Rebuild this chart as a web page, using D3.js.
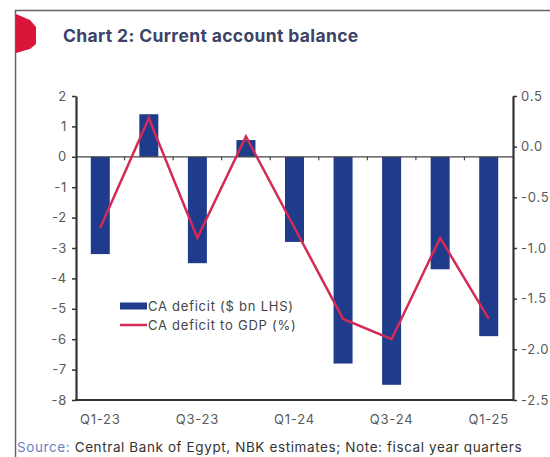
<!DOCTYPE html>
<html>
<head>
<meta charset="utf-8">
<script src="https://cdn.jsdelivr.net/npm/d3@7"></script>
<style>
  body { margin: 0; background: #fff; }
  svg { display: block; font-family: Inter, "Noto Sans", sans-serif; }
</style>
</head>
<body>
<svg id="chart" width="550" height="457"></svg>
<script>
const quarters = ['Q1-23', 'Q2-23', 'Q3-23', 'Q4-23', 'Q1-24', 'Q2-24', 'Q3-24', 'Q4-24', 'Q1-25']
const caDeficit = [-3.2, 1.4, -3.5, 0.55, -2.8, -6.8, -7.5, -3.7, -5.9]
const caToGdp = [-0.8, 0.28, -0.9, 0.1, -0.8, -1.7, -1.9, -0.9, -1.7]
const xLabels = ['Q1-23', 'Q3-23', 'Q1-24', 'Q3-24', 'Q1-25']
const leftTicks = [2, 1, 0, -1, -2, -3, -4, -5, -6, -7, -8]
const rightTicks = [0.5, 0, -0.5, -1, -1.5, -2, -2.5]

const svg = d3.select('#chart')
const plotL = 76, plotR = 513, plotT = 96, plotB = 400

// frame + red marker
svg.append('path')
  .attr('d', 'M15.5,457 V10.5 H550')
  .attr('fill', 'none')
  .attr('stroke', '#666')
  .attr('stroke-width', 1.5)
svg.append('path')
  .attr('d', 'M16,14 L30,20 L36,27 L36,44 L30,49 L16,53 Z')
  .attr('fill', '#d9163a')

svg.append('text')
  .attr('x', 63).attr('y', 42)
  .attr('font-size', 17.5).attr('font-weight', 700)
  .attr('letter-spacing', 0.35)
  .attr('fill', '#3b4466')
  .text('Chart 2: Current account balance')

const xb = d3.scaleBand().domain(quarters).range([plotL, plotR])
const y = d3.scaleLinear().domain([-8, 2]).range([plotB, plotT])
const y2 = d3.scaleLinear().domain([-2.5, 0.5]).range([plotB, plotT])

// bars
svg.append('g').selectAll('rect')
  .data(caDeficit)
  .enter()
  .append('rect')
  .attr('x', (d, i) => xb(quarters[i]) + xb.bandwidth() / 2 - 9.5)
  .attr('width', 19)
  .attr('y', d => y(Math.max(0, d)))
  .attr('height', d => Math.abs(y(d) - y(0)))
  .attr('fill', '#1f3c8c')

// zero line with small ticks at band edges
svg.append('line')
  .attr('x1', plotL).attr('x2', plotR)
  .attr('y1', y(0)).attr('y2', y(0))
  .attr('stroke', '#444').attr('stroke-width', 1.2)
svg.append('g').selectAll('line')
  .data(quarters.slice(1))
  .enter()
  .append('line')
  .attr('x1', d => xb(d)).attr('x2', d => xb(d))
  .attr('y1', y(0)).attr('y2', y(0) + 3.5)
  .attr('stroke', '#444').attr('stroke-width', 1.2)

// line series
const line = d3.line()
  .x((d, i) => xb(quarters[i]) + xb.bandwidth() / 2)
  .y(d => y2(d))
svg.append('path')
  .datum(caToGdp)
  .attr('d', line)
  .attr('fill', 'none')
  .attr('stroke', '#d42a55')
  .attr('stroke-width', 2.5)

// axes
const leftAxis = svg.append('g')
  .attr('transform', `translate(${plotL},0)`)
  .call(d3.axisLeft(y).tickValues(leftTicks).tickSize(4).tickSizeOuter(0).tickFormat(d => String(d)))
const rightAxis = svg.append('g')
  .attr('transform', `translate(${plotR},0)`)
  .call(d3.axisRight(y2).tickValues(rightTicks).tickSize(4).tickSizeOuter(0).tickFormat(d => d.toFixed(1)))
const bottomAxis = svg.append('g')
  .attr('transform', `translate(0,${plotB})`)
  .call(d3.axisBottom(xb).tickValues(xLabels).tickSize(0).tickPadding(15))
bottomAxis.select('.domain')
  .attr('stroke', '#333').attr('stroke-width', 2.2)
  .attr('d', `M${plotL - 1},0H${plotR + 1}`)

;[leftAxis, rightAxis].forEach(a => {
  a.select('.domain').attr('stroke', '#333').attr('stroke-width', 2.2)
  a.selectAll('.tick line').attr('stroke', '#333').attr('stroke-width', 1.5)
})
;[leftAxis, rightAxis, bottomAxis].forEach(a => {
  a.selectAll('.tick text')
    .attr('font-size', 13)
    .attr('letter-spacing', 0.8)
    .attr('fill', '#5a5a5a')
    .attr('font-family', 'Inter, "Noto Sans", sans-serif')
})
leftAxis.selectAll('.tick text').attr('x', -9)
rightAxis.selectAll('.tick text').attr('x', 8)

// legend
const legend = svg.append('g').attr('transform', 'translate(120,306)')
legend.append('rect')
  .attr('x', 0).attr('y', -3.5).attr('width', 27).attr('height', 7)
  .attr('fill', '#1f3c8c')
legend.append('line')
  .attr('x1', 0).attr('x2', 27).attr('y1', 19).attr('y2', 19)
  .attr('stroke', '#d42a55').attr('stroke-width', 2.5)
legend.selectAll('text')
  .data(['CA deficit ($ bn LHS)', 'CA deficit to GDP (%)'])
  .enter()
  .append('text')
  .attr('x', 28)
  .attr('y', (d, i) => i * 19)
  .attr('dy', '0.35em')
  .attr('font-size', 13)
  .attr('letter-spacing', 0.75)
  .attr('fill', '#444')
  .text(d => d)

// source
const src = svg.append('text')
  .attr('x', 17).attr('y', 452)
  .attr('font-size', 13.5)
  .attr('letter-spacing', 0.6)
  .attr('fill', '#333')
src.append('tspan').attr('fill', '#6a7fbf').text('Source:')
src.append('tspan').text(' Central Bank of Egypt, NBK estimates; Note: fiscal year quarters')
</script>
</body>
</html>
